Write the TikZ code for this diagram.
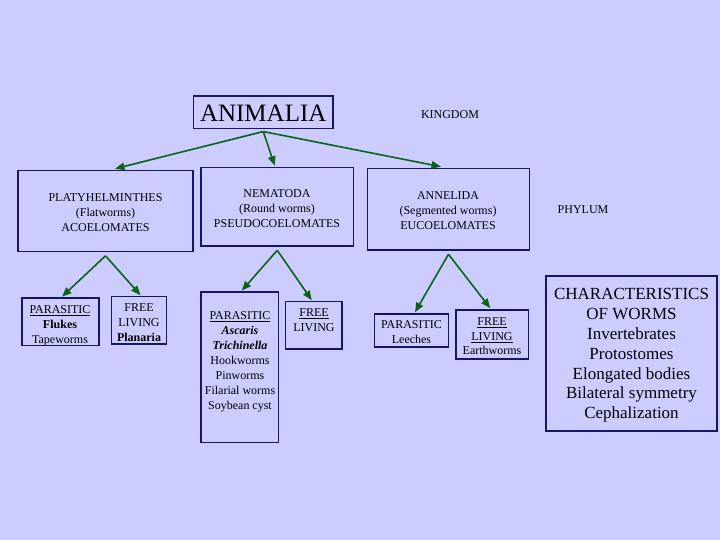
\documentclass[tikz,border=0pt]{standalone}
\usepackage{fontspec}
\setmainfont{Liberation Serif}
\usetikzlibrary{arrows.meta}
\definecolor{bgc}{RGB}{204,204,255}
\definecolor{navyc}{RGB}{22,22,102}
\definecolor{greenc}{RGB}{12,100,24}
\newcommand\lblfont{\fontsize{12}{15}\selectfont\lineskiplimit=-20pt\relax}
\newcommand\lblfontb{\fontsize{12}{14.5}\selectfont\lineskiplimit=-20pt\relax}
\tikzset{
  boxc/.style={draw=navyc, line width=1.6pt, inner sep=0pt, minimum width=#1},
  lbl/.style={inner sep=0pt, align=center, text=black, font={\lblfont}},
  bigl/.style={inner sep=0pt, align=center, text=black, font=\fontsize{17}{19.8}\selectfont},
  arr/.style={draw=greenc, line width=1.6pt, -{Triangle[length=9.5pt,width=7.5pt]}}
}
\begin{document}
\begin{tikzpicture}[x=1pt,y=-1pt]
\path[use as bounding box, fill=bgc] (0,0) rectangle (720,540);
% boxes
\node[boxc=139.5pt, minimum height=32.5pt, line width=1.1pt] (animalia) at (263.25,112.25) {};
\node[boxc=175pt, minimum height=81pt] (platy) at (105.5,211) {};
\node[boxc=152.5pt, minimum height=78.5pt] (nema) at (277.25,206.75) {};
\node[boxc=162pt, minimum height=81.5pt] (anne) at (448.5,209.25) {};
\node[boxc=77pt, minimum height=47.5pt] (p1) at (60.5,321.75) {};
\node[boxc=55pt, minimum height=47.5pt] (f1) at (139,320.25) {};
\node[boxc=77.5pt, minimum height=150.5pt] (p2) at (239.75,367.25) {};
\node[boxc=56.5pt, minimum height=47.5pt] (f2) at (313.75,325.25) {};
\node[boxc=74pt, minimum height=33pt] (p3) at (411.5,330.5) {};
\node[boxc=72.5pt, minimum height=49pt] (f3) at (492.25,334.5) {};
\node[boxc=171pt, minimum height=155pt] (chars) at (631.5,353.5) {};
% texts
\node[inner sep=0pt, font=\fontsize{25}{28}\selectfont] (animaliaT) at (263.25,113) {ANIMALIA};
\node[lbl] (kingdomT) at (450,115) {KINGDOM};
\node[lbl] (phylumT) at (583,210) {PHYLUM};
\node[lbl] (platyT) at (105.5,212.5) {PLATYHELMINTHES\\(Flatworms)\\ACOELOMATES};
\node[lbl] (nemaT) at (277,209) {NEMATODA\\(Round worms)\\PSEUDOCOELOMATES};
\node[lbl] (anneT) at (448,211) {ANNELIDA\\(Segmented worms)\\EUCOELOMATES};
\node[lbl] (p1T) at (60,325.5) {\underline{PARASITIC}\\\textbf{Flukes}\\Tapeworms};
\node[lbl] (f1T) at (139,322.5) {FREE\\LIVING\\\textbf{Planaria}};
\node[lbl] (p2T) at (240,362) {\underline{PARASITIC}\\\textbf{\textit{Ascaris}}\\\textbf{\textit{Trichinella}}\\Hookworms\\Pinworms\\Filarial worms\\Soybean cyst};
\node[lbl] (f2T) at (314,320.5) {\underline{FREE}\\LIVING};
\node[lbl] (p3T) at (411.5,332.5) {PARASITIC\\Leeches};
\node[lbl, font={\lblfontb}] (f3T) at (492,336.5) {\underline{FREE}\\\underline{LIVING}\\Earthworms};
\node[bigl] (charsT) at (631.5,355.5) {CHARACTERISTICS\\OF WORMS\\Invertebrates\\Protostomes\\Elongated bodies\\Bilateral symmetry\\Cephalization};
% arrows
\draw[arr] ([yshift=-2.5pt]animalia.south) -- ([xshift=9.5pt,yshift=1pt]platy.north);
\draw[arr] ([yshift=-2.5pt]animalia.south) -- ([xshift=-2.5pt,yshift=1pt]nema.north);
\draw[arr] ([yshift=-2.5pt]animalia.south) -- ([xshift=-7.5pt,yshift=1pt]anne.north);
\draw[arr] ([yshift=-3.5pt]platy.south) -- ([xshift=1.5pt,yshift=0.5pt]p1.north);
\draw[arr] ([yshift=-3.5pt]platy.south) -- ([xshift=1.5pt,yshift=0.5pt]f1.north);
\draw[arr] ([yshift=-3.5pt]nema.south) -- ([xshift=2pt,yshift=0.5pt]p2.north);
\draw[arr] ([yshift=-3.5pt]nema.south) -- ([xshift=-2pt,yshift=0.5pt]f2.north);
\draw[arr] ([yshift=-3.5pt]anne.south) -- ([xshift=3.5pt,yshift=1pt]p3.north);
\draw[arr] ([yshift=-3.5pt]anne.south) -- ([xshift=-2pt,yshift=1pt]f3.north);
\end{tikzpicture}
\end{document}
